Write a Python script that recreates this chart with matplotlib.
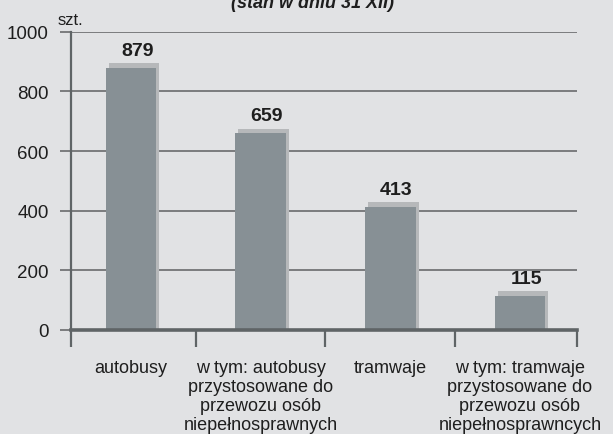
import matplotlib
matplotlib.use('Agg')
import matplotlib.pyplot as plt
from matplotlib.ticker import FixedLocator

# Dane
kategorie = ['autobusy',
             'w tym: autobusy\nprzystosowane do\nprzewozu osób\nniepełnosprawnych',
             'tramwaje',
             'w tym: tramwaje\nprzystosowane do\nprzewozu osób\nniepełnosprawncych']
wartosci = [879, 659, 413, 115]
y_ticks = [0, 200, 400, 600, 800, 1000]

# Kolory
tlo = '#e1e2e4'
kolor_slupka = '#879095'
kolor_cienia = '#b6b8ba'
kolor_siatki = '#7b7c7e'
kolor_osi = '#5f6466'

plt.rcParams['font.family'] = ['Liberation Sans', 'DejaVu Sans']

fig = plt.figure(figsize=(6.13, 4.35), dpi=100, facecolor=tlo)
ax = fig.add_axes([0.1158, 0.2391, 0.8254, 0.6857], facecolor=tlo)

x = list(range(len(wartosci)))
szer = 0.39
dx, dy = 0.024, 16  # przesunięcie "cienia" za słupkiem

ax.bar([i + dx for i in x], [v + dy for v in wartosci], width=szer,
       color=kolor_cienia, zorder=2)
ax.bar(x, wartosci, width=szer, color=kolor_slupka, zorder=3)

for i, v in zip(x, wartosci):
    ax.annotate(str(v), (i + dx * 2, v + dy), xytext=(0, 3), textcoords='offset points',
                ha='center', va='bottom', fontsize=14, fontweight='bold', color='#1e1e1e')

ax.set_xlim(-0.463, 3.44)
ax.set_ylim(0, 1000)

# Oś Y i siatka
ax.set_yticks(y_ticks)
ax.yaxis.grid(True, color=kolor_siatki, linewidth=1.4, zorder=1)
ax.tick_params(axis='y', length=8, width=1.4, color=kolor_siatki, pad=8,
               labelsize=13.5, labelcolor='#1e1e1e')

# Oś X
ax.set_xticks(x)
ax.set_xticklabels(kategorie, fontsize=13, color='#1e1e1e', linespacing=1.15)
ax.tick_params(axis='x', which='major', length=0, pad=21)
ax.xaxis.set_minor_locator(FixedLocator([-0.463, 0.5, 1.5, 2.5, 3.44]))
ax.tick_params(axis='x', which='minor', length=12, width=1.6, color=kolor_osi)

for s in ['top', 'right']:
    ax.spines[s].set_visible(False)
ax.spines['left'].set_color(kolor_osi)
ax.spines['left'].set_linewidth(1.6)
ax.spines['bottom'].set_color(kolor_osi)
ax.spines['bottom'].set_linewidth(2.6)
ax.spines['bottom'].set_zorder(4)

fig.text(58 / 613, 1 - 25 / 435, 'szt.', fontsize=12, color='#1e1e1e', va='baseline')
fig.text(313 / 613, 1 - 7.5 / 435, '(stan w dniu 31 XII)', fontsize=13,
         fontweight='bold', fontstyle='italic', ha='center', va='baseline', color='#1e1e1e')

fig.savefig('out.png', dpi=100, facecolor=tlo)
